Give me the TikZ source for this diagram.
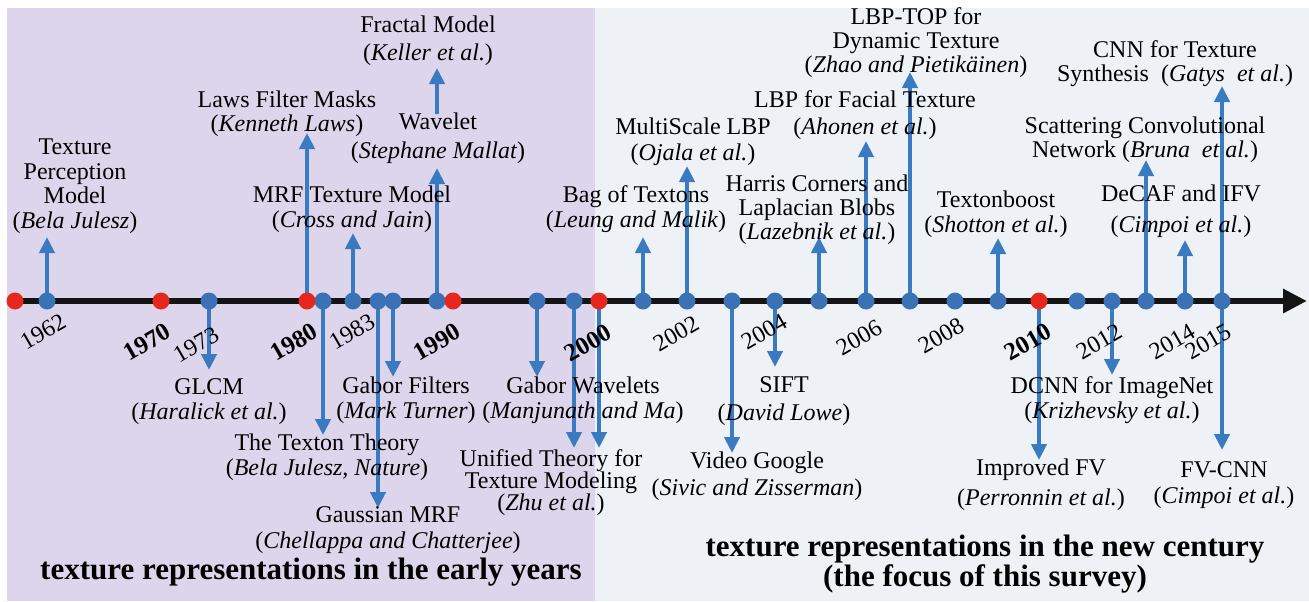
\documentclass[tikz,border=0pt]{standalone}
\usepackage{fontspec}
\setmainfont{Liberation Serif}
\usetikzlibrary{arrows.meta}
\definecolor{bgL}{HTML}{DDD5EC}
\definecolor{bgR}{HTML}{EEF2F7}
\definecolor{arrblue}{HTML}{3A7AC0}
\definecolor{dotblue}{HTML}{3B72B6}
\definecolor{dotred}{HTML}{E5271D}
\begin{document}
\begin{tikzpicture}[x=0.5pt,y=-0.5pt,
 lbl/.style={font=\fontsize{12}{12}\selectfont, align=center, inner sep=0pt},
 yr/.style={font=\fontsize{12}{12}\selectfont, rotate=30, inner sep=0pt},
 yrb/.style={font=\bfseries\fontsize{12.5}{12.5}\selectfont, rotate=30, inner sep=0pt},
 arr/.style={draw=arrblue, line width=2pt, -{Triangle[width=7.5pt,length=8pt]}},
 bdot/.style={circle, fill=dotblue, minimum size=8.5pt, inner sep=0pt},
 rdot/.style={circle, fill=dotred, minimum size=8.5pt, inner sep=0pt},
 big/.style={font=\bfseries\fontsize{15.5}{15}\selectfont, align=center, inner sep=0pt}]

\useasboundingbox (0,0) rectangle (1309,601);
\fill[white] (0,0) rectangle (1309,601);
\fill[bgL] (7,8) rectangle (595,601);
\fill[bgR] (595,8) rectangle (1309,601);

% timeline
\coordinate (tl0) at (8,301);
\coordinate (tl1) at (1307,301);
\draw[line width=3.3pt, draw=black!92, -{Triangle[width=11.5pt,length=12pt]}] (tl0) -- (tl1);

% dot positions
\foreach \n/\x in {r60/15,b62/47,r70/161,b73/209,r80/307,b81/323,b83/353,b85/378,b86/393,b89/437,r90/453,b96/537,b99/574,r00/599,b01/643,b02/687,b03/732,b04/775,b05/819,b06/866,b07/910,b08/955,b09/998,r10/1039,b11/1077,b12/1112,b13/1146,b14/1185,b15/1222}
  \coordinate (\n) at (\x,301);

% arrow tips
\coordinate (u62) at (47,237);
\coordinate (u80) at (307,133);
\coordinate (u83) at (353,233);
\coordinate (u89) at (437,168);
\coordinate (f0) at (437,114);
\coordinate (f1) at (437,68);
\coordinate (u01) at (643,237);
\coordinate (u02) at (687,166);
\coordinate (u05) at (819,237);
\coordinate (u06) at (866,141);
\coordinate (u07) at (910,72);
\coordinate (u09) at (998,238);
\coordinate (u13) at (1146,160);
\coordinate (u14) at (1185,240);
\coordinate (u15) at (1222,86);
\coordinate (d73) at (209,370);
\coordinate (d81) at (323,435);
\coordinate (d85) at (378,508);
\coordinate (d86) at (393,377);
\coordinate (d96) at (537,377);
\coordinate (d99) at (574,448);
\coordinate (d00) at (599,448);
\coordinate (d03) at (732,453);
\coordinate (d04) at (775,367);
\coordinate (d10) at (1039,460);
\coordinate (d12) at (1112,375);
\coordinate (d15) at (1222,450);

% arrows
\foreach \a/\b in {b62/u62,r80/u80,b83/u83,b89/u89,f0/f1,b01/u01,b02/u02,b05/u05,b06/u06,b07/u07,b09/u09,b13/u13,b14/u14,b15/u15,
  b73/d73,b81/d81,b85/d85,b86/d86,b96/d96,b99/d99,r00/d00,b03/d03,b04/d04,r10/d10,b12/d12,b15/d15}
  \draw[arr] (\a) -- (\b);

% dots
\foreach \n in {b62,b73,b81,b83,b85,b86,b89,b96,b99,b01,b02,b03,b04,b05,b06,b07,b08,b09,b11,b12,b13,b14,b15}
  \node[bdot] (n\n) at (\n) {};
\foreach \n in {r60,r70,r80,r90,r00,r10}
  \node[rdot] (n\n) at (\n) {};

% year labels
\node[yr]  (y62) at (43,332) {1962};
\node[yrb] (y70) at (147,342) {1970};
\node[yr]  (y73) at (196,345) {1973};
\node[yrb] (y80) at (294,342) {1980};
\node[yr]  (y83) at (352,332) {1983};
\node[yrb] (y90) at (437,342) {1990};
\node[yrb] (y00) at (588,343) {2000};
\node[yr]  (y02) at (676,334) {2002};
\node[yr]  (y04) at (764,332) {2004};
\node[yr]  (y06) at (859,338) {2006};
\node[yr]  (y08) at (941,336) {2008};
\node[yrb] (y10) at (1028,342) {2010};
\node[yr]  (y12) at (1099,342) {2012};
\node[yr]  (y14) at (1172,342) {2014};
\node[yr]  (y15) at (1208,342) {2015};

% upper labels
\node[lbl] (tpm) at (75,186) {Texture\\[0.25pt]Perception\\[0.25pt]Model\\[0.25pt](\textit{Bela Julesz})};
\node[lbl] (laws) at (287,114) {Laws Filter Masks\\(\textit{Kenneth Laws})};
\node[lbl] (mrf) at (352,209.5) {MRF Texture Model\\[0.5pt](\textit{Cross and Jain})};
\node[lbl] (wav) at (438,138.5) {Wavelet\\[2.5pt](\textit{Stephane Mallat})};
\node[lbl] (frac) at (428,41) {Fractal Model\\[2pt](\textit{Keller et al.})};
\node[lbl] (bag) at (636,209.5) {Bag of Textons\\[0.5pt](\textit{Leung and Malik})};
\node[lbl] (mslbp) at (693,142) {MultiScale LBP\\[1pt](\textit{Ojala et al.})};
\node[lbl] (harris) at (817,210) {Harris Corners and\\Laplacian Blobs\\(\textit{Lazebnik et al.})};
\node[lbl] (lbpf) at (865,115.5) {LBP for Facial Texture\\[1.5pt](\textit{Ahonen et al.})};
\node[lbl] (lbptop) at (916,42.5) {LBP-TOP for\\Dynamic Texture\\(\textit{Zhao and Pietikäinen})};
\node[lbl] (tboost) at (996,214.5) {Textonboost\\[0.5pt](\textit{Shotton et al.})};
\node[lbl] (scat) at (1145,140) {Scattering Convolutional\\Network (\textit{Bruna\ \ et al.})};
\node[lbl] (decaf) at (1181,211.5) {DeCAF and IFV\\[3.5pt](\textit{Cimpoi et al.})};
\node[lbl] (cnn) at (1175,64) {CNN for Texture\\Synthesis\ \ (\textit{Gatys\ \ et al.})};

% lower labels
\node[lbl] (glcm) at (209,402) {GLCM\\[0.5pt](\textit{Haralick et al.})};
\node[lbl] (ttt) at (327,457) {The Texton Theory\\[0.5pt](\textit{Bela Julesz, Nature})};
\node[lbl] (gmrf) at (388,530) {Gaussian MRF\\[1pt](\textit{Chellappa and Chatterjee})};
\node[lbl] (gabf) at (406,400.5) {Gabor Filters\\[0.5pt](\textit{Mark Turner})};
\node[lbl] (gabw) at (583,400.5) {Gabor Wavelets\\[0.5pt](\textit{Manjunath and Ma})};
\node[lbl] (unif) at (551,482.5) {Unified Theory for\\[-1pt]Texture Modeling\\[-1pt](\textit{Zhu et al.})};
\node[lbl] (vg) at (757,476.5) {Video Google\\[1.5pt](\textit{Sivic and Zisserman})};
\node[lbl] (sift) at (784,401) {SIFT\\[2pt](\textit{David Lowe})};
\node[lbl] (ifv) at (1041,485) {Improved FV\\[3pt](\textit{Perronnin et al.})};
\node[lbl] (dcnn) at (1112,400.5) {DCNN for ImageNet\\[0.5pt](\textit{Krizhevsky et al.})};
\node[lbl] (fvcnn) at (1224,485) {FV-CNN\\[1pt](\textit{Cimpoi et al.})};

% era titles
\node[big] (early) at (311,572) {texture representations in the early years};
\node[big] (newc) at (985,564) {texture representations in the new century\\(the focus of this survey)};
\end{tikzpicture}
\end{document}
